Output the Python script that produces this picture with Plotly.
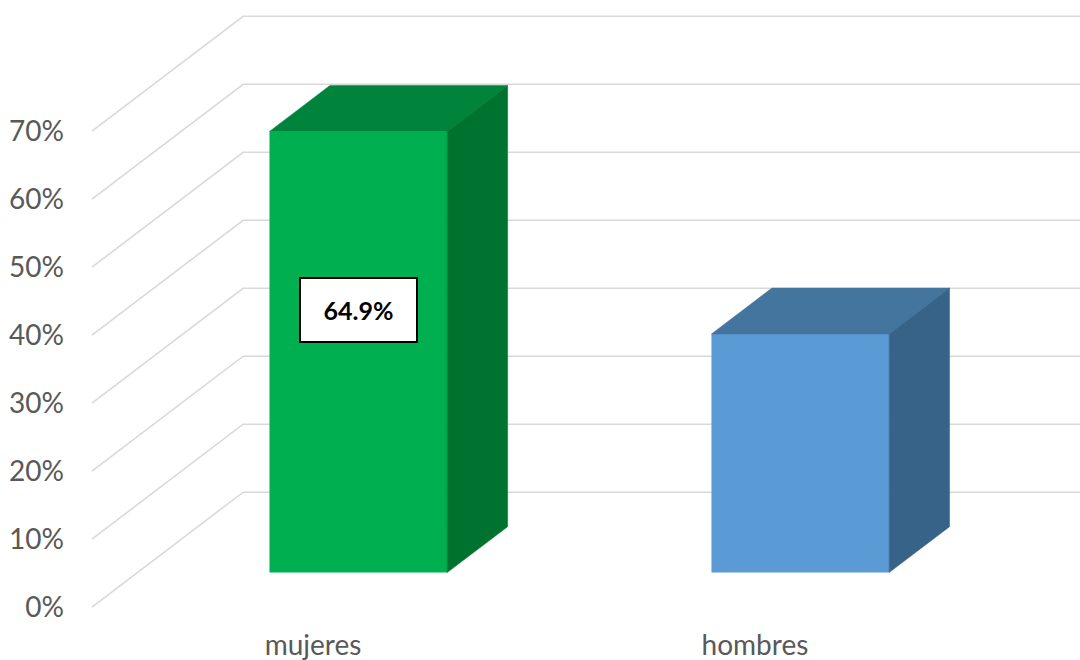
import plotly.graph_objects as go

# Data
categories = ["mujeres", "hombres"]
shares = [64.9, 35.1]
show_value = [True, False]
tick_values = [0, 10, 20, 30, 40, 50, 60, 70]
tick_labels = [f"{v}%" for v in tick_values]

# Face colours per bar (front / top / side)
front_colors = ["#00B050", "#5B9BD5"]
top_colors = ["#00843C", "#44759F"]
side_colors = ["#00722F", "#386388"]

# Oblique projection of the depth axis (full floor depth) in data units
DEPTH_X = 0.342   # category units
DEPTH_Y = 16.9    # percentage points
BAR_W = 0.402
BAR_NEAR = 0.3    # depth fraction where the bars start
BAR_FAR = 0.7     # depth fraction where the bars end

WALL_X = -0.5
X_RANGE = [-0.5045, 1.7355]
Y_RANGE = [-1.9, 89.3]

FONT = "Lato, 'Open Sans', sans-serif"
GRID = "#D9D9D9"

fig = go.Figure()

# Side wall (diagonals) and back wall (horizontals) gridlines
shapes = []
for v in tick_values:
    x0, y0 = WALL_X, v
    x1, y1 = WALL_X + DEPTH_X, v + DEPTH_Y
    x2 = X_RANGE[1] + 0.2
    shapes.append(dict(
        type="path", xref="x", yref="y", layer="below",
        path=f"M {x0},{y0} L {x1},{y1} L {x2},{y1}",
        line=dict(color=GRID, width=1.6),
    ))

ddx = (BAR_FAR - BAR_NEAR) * DEPTH_X
ddy = (BAR_FAR - BAR_NEAR) * DEPTH_Y
annotations = []
for i, (cat, v) in enumerate(zip(categories, shares)):
    cx = i + BAR_NEAR * DEPTH_X
    base = BAR_NEAR * DEPTH_Y
    xl, xr = cx - BAR_W / 2, cx + BAR_W / 2
    top = base + v

    # front face
    fig.add_trace(go.Bar(
        x=[cx], y=[v], base=[base], width=[BAR_W],
        marker=dict(color=front_colors[i], line=dict(width=0)),
        hoverinfo="skip", showlegend=False,
    ))
    # top face
    fig.add_trace(go.Scatter(
        x=[xl, xr, xr + ddx, xl + ddx, xl],
        y=[top, top, top + ddy, top + ddy, top],
        mode="lines", fill="toself", fillcolor=top_colors[i],
        line=dict(width=0.5, color=top_colors[i]),
        hoverinfo="skip", showlegend=False,
    ))
    # side face
    fig.add_trace(go.Scatter(
        x=[xr, xr, xr + ddx, xr + ddx, xr],
        y=[base, top, top + ddy, base + ddy, base],
        mode="lines", fill="toself", fillcolor=side_colors[i],
        line=dict(width=0.5, color=side_colors[i]),
        hoverinfo="skip", showlegend=False,
    ))

    if show_value[i]:
        annotations.append(dict(
            x=cx, y=base + 0.595 * v, xref="x", yref="y",
            text=f"<b>{v}%</b>", showarrow=False,
            font=dict(family=FONT, size=25, color="#000000"),
            bgcolor="#FFFFFF", bordercolor="#000000", borderwidth=2,
            borderpad=0, width=115, height=62,
        ))

fig.update_layout(
    width=1080, height=660,
    margin=dict(l=90, r=0, t=0, b=40),
    paper_bgcolor="#FFFFFF", plot_bgcolor="#FFFFFF",
    barmode="overlay",
    shapes=shapes,
    annotations=annotations,
    showlegend=False,
)
fig.update_xaxes(
    range=X_RANGE, tickvals=list(range(len(categories))), ticktext=categories,
    showgrid=False, zeroline=False, showline=False, ticks="",
    tickfont=dict(family=FONT, size=28, color="#595959"),
    ticklabelstandoff=6,
)
fig.update_yaxes(
    range=Y_RANGE, tickvals=tick_values, ticktext=tick_labels,
    showgrid=False, zeroline=False, showline=False, ticks="",
    tickfont=dict(family=FONT, size=28, color="#595959"),
    ticklabelstandoff=25,
)

fig.write_html("out.html")
